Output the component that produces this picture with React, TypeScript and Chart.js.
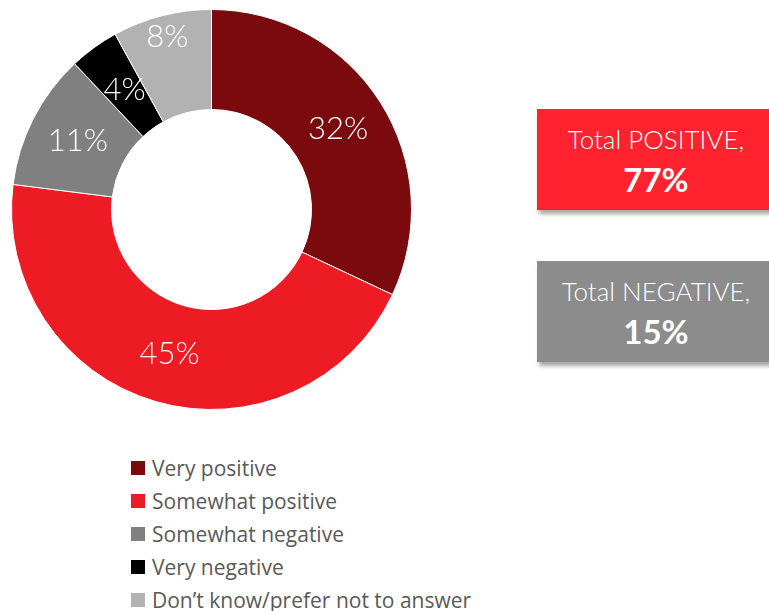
import React, { useEffect, useRef } from "react";
import { Chart, registerables } from "chart.js";

Chart.register(...registerables);

const categories = [
  "Very positive",
  "Somewhat positive",
  "Somewhat negative",
  "Very negative",
  "Don\u2019t know/prefer not to answer",
];
const values = [32, 45, 11, 4, 8];
const valueLabels = ["32%", "45%", "11%", "4%", "8%"];
const colors = ["#7B0A0E", "#ED1C24", "#808080", "#000000", "#B2B2B2"];
const labelRadiusFactor = [0.75, 0.75, 0.75, 0.74, 0.89];

const totalPositiveLabel = "Total POSITIVE,";
const totalPositiveValue = "77%";
const totalNegativeLabel = "Total NEGATIVE,";
const totalNegativeValue = "15%";

const FONT = "Lato, 'Open Sans', 'DejaVu Sans', sans-serif";
const LEGEND_FONT = "'Open Sans', Lato, 'DejaVu Sans', sans-serif";

const labelPlugin = {
  id: "sliceLabels",
  afterDatasetsDraw(chart: any) {
    const ctx = chart.ctx;
    const meta = chart.getDatasetMeta(0);
    ctx.save();
    ctx.fillStyle = "#FFFFFF";
    ctx.font = `300 31px ${FONT}`;
    ctx.textAlign = "center";
    ctx.textBaseline = "middle";
    meta.data.forEach((arc: any, i: number) => {
      const p = arc.getProps(["x", "y", "startAngle", "endAngle", "outerRadius"], true);
      const mid = (p.startAngle + p.endAngle) / 2;
      const r = p.outerRadius * labelRadiusFactor[i];
      ctx.fillText(valueLabels[i], p.x + Math.cos(mid) * r, p.y + Math.sin(mid) * r);
    });
    ctx.restore();
  },
};

function TotalBox(props: { top: number; bg: string; label: string; value: string }) {
  return (
    <div
      style={{
        position: "absolute",
        left: 537,
        top: props.top,
        width: 238,
        height: 101,
        background: props.bg,
        boxShadow: "2px 4px 4px rgba(0,0,0,0.35)",
        color: "#FFFFFF",
        display: "flex",
        flexDirection: "column",
        alignItems: "center",
        justifyContent: "center",
        fontFamily: FONT,
      }}
    >
      <div style={{ fontSize: 26, fontWeight: 300, lineHeight: "38px", whiteSpace: "nowrap" }}>{props.label}</div>
      <div style={{ fontSize: 33, fontWeight: 700, lineHeight: "42px", whiteSpace: "nowrap" }}>{props.value}</div>
    </div>
  );
}

export default function App() {
  const canvasRef = useRef<HTMLCanvasElement | null>(null);

  useEffect(() => {
    if (!canvasRef.current) return;
    const chart = new Chart(canvasRef.current, {
      type: "doughnut",
      data: {
        labels: categories,
        datasets: [
          {
            data: values,
            backgroundColor: colors,
            borderColor: "#FFFFFF",
            borderWidth: 1,
          },
        ],
      },
      options: {
        animation: false,
        responsive: false,
        maintainAspectRatio: false,
        cutout: "50%",
        layout: { padding: 0 },
        plugins: {
          legend: { display: false },
          tooltip: { enabled: false },
        },
      },
      plugins: [labelPlugin],
    });
    return () => chart.destroy();
  }, []);

  return (
    <div
      style={{
        position: "fixed",
        left: 0,
        top: 0,
        width: 769,
        height: 611,
        overflow: "hidden",
        background: "#FFFFFF",
      }}
    >
      <canvas
        ref={canvasRef}
        width={401}
        height={401}
        style={{ position: "absolute", left: 10.5, top: 8.5, width: 401, height: 401 }}
      />
      <TotalBox top={109} bg="#FE232F" label={totalPositiveLabel} value={totalPositiveValue} />
      <TotalBox top={261} bg="#8C8C8C" label={totalNegativeLabel} value={totalNegativeValue} />
      <div
        style={{
          position: "absolute",
          left: 131,
          top: 451,
          fontFamily: LEGEND_FONT,
          fontSize: 21,
          color: "#595959",
        }}
      >
        {categories.map((c, i) => (
          <div key={c} style={{ display: "flex", alignItems: "center", height: 33, whiteSpace: "nowrap" }}>
            <span
              style={{
                display: "inline-block",
                width: 14,
                height: 14,
                background: colors[i],
                marginRight: 7,
                flex: "none",
              }}
            />
            <span>{c}</span>
          </div>
        ))}
      </div>
    </div>
  );
}
